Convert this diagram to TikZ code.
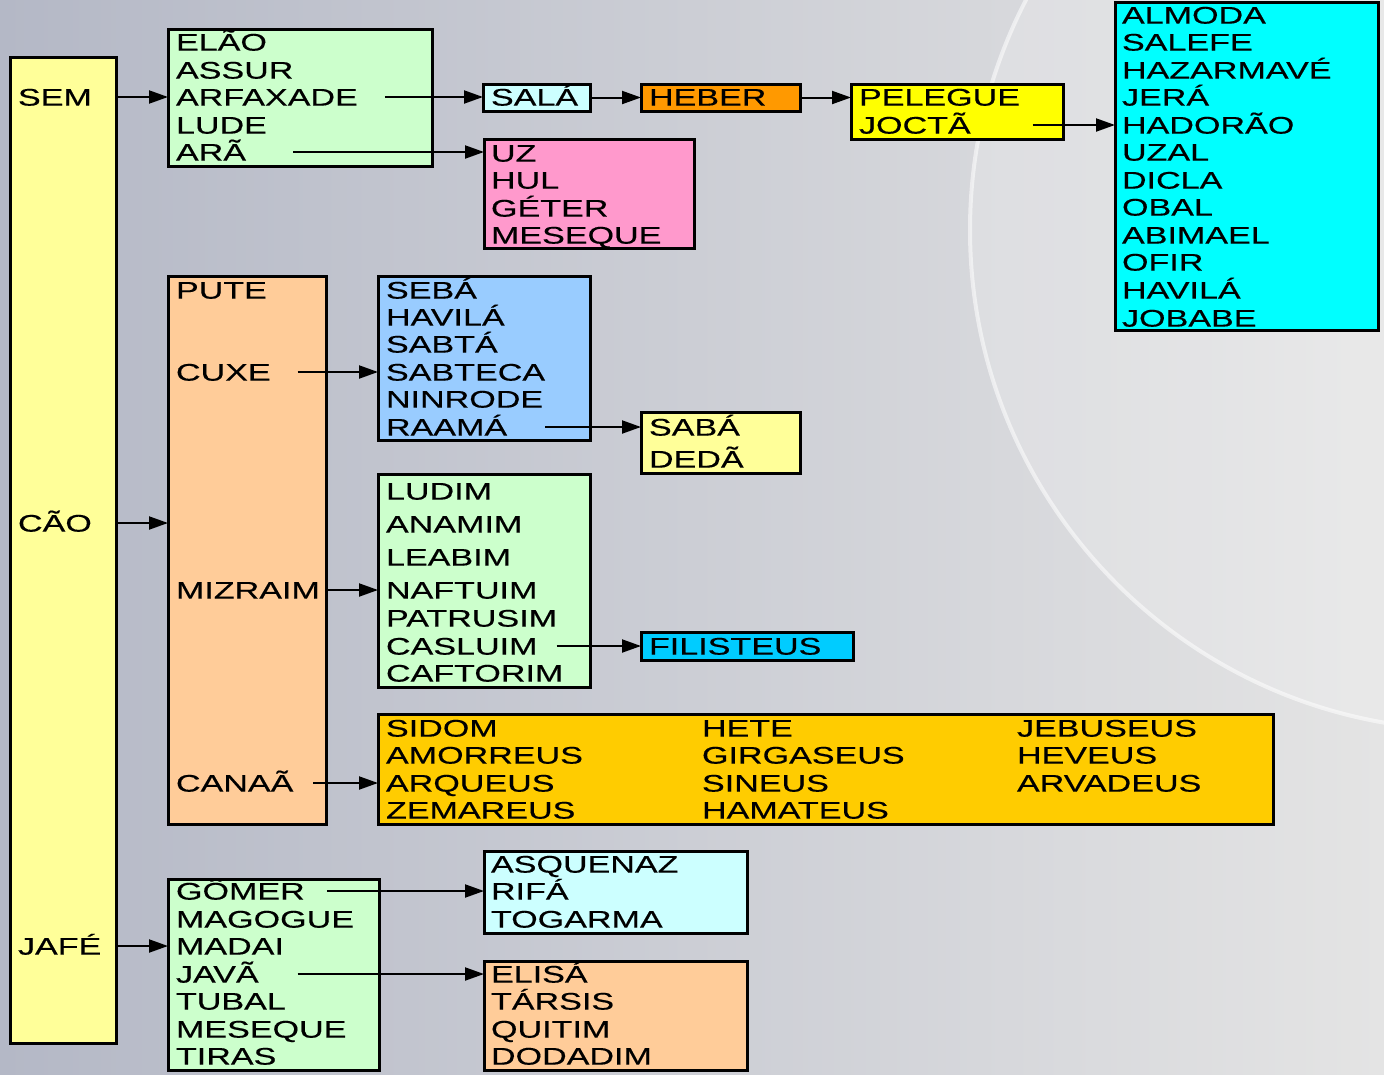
\documentclass[tikz,border=0pt]{standalone}
\usepackage{fontspec}
\setmainfont{Liberation Sans}[FakeStretch=1.42,FakeBold=0.4]
\usetikzlibrary{arrows.meta,calc}
\definecolor{bgL}{HTML}{B4B8C6}
\definecolor{bgR}{HTML}{E4E4E4}
\definecolor{cYel}{HTML}{FFFF99}
\definecolor{cGrn}{HTML}{CCFFCC}
\definecolor{cLcy}{HTML}{CCFFFF}
\definecolor{cOrg}{HTML}{FF9900}
\definecolor{cYY}{HTML}{FFFF00}
\definecolor{cCya}{HTML}{00FFFF}
\definecolor{cPnk}{HTML}{FF99CC}
\definecolor{cPch}{HTML}{FFCC99}
\definecolor{cBlu}{HTML}{99CCFF}
\definecolor{cSky}{HTML}{00CCFF}
\definecolor{cGld}{HTML}{FFCC00}
\begin{document}
\begin{tikzpicture}[x=1pt,y=-1pt,
  box/.style={draw=black,line width=3pt,inner sep=0pt,outer sep=0pt,anchor=north west},
  t/.style={anchor=west,inner sep=0pt,outer sep=0pt,text height=17.2pt,text depth=0pt,
    font=\fontsize{24}{27}\selectfont},
  arr/.style={line width=2pt,-{Triangle[length=19pt,width=13pt]}}]
% background
\useasboundingbox (0,0) rectangle (1384,1074);
\shade[left color=bgL,right color=bgR] (0,0) rectangle (1384,1074);
\fill[white,opacity=0.18] (1470,230) circle (500);
\draw[white,opacity=0.55,line width=4pt] (1470,230) circle (500);
% boxes
\node[box,fill=cYel,minimum width=106pt,minimum height=986pt] (col) at (10,57) {};
\node[box,fill=cGrn,minimum width=264pt,minimum height=137pt] (shem) at (168,29) {};
\node[box,fill=cLcy,minimum width=107pt,minimum height=27pt] (sala) at (483,84) {};
\node[box,fill=cOrg,minimum width=159pt,minimum height=27pt] (heber) at (641,84) {};
\node[box,fill=cYY,minimum width=212pt,minimum height=55pt] (peleg) at (851,84) {};
\node[box,fill=cCya,minimum width=263pt,minimum height=328pt] (joct) at (1115,2) {};
\node[box,fill=cPnk,minimum width=210pt,minimum height=109pt] (aram) at (484,139) {};
\node[box,fill=cPch,minimum width=158pt,minimum height=548pt] (ham) at (168,276) {};
\node[box,fill=cBlu,minimum width=212pt,minimum height=164pt] (cush) at (378,276) {};
\node[box,fill=cYel,minimum width=159pt,minimum height=61pt] (raama) at (641,412) {};
\node[box,fill=cGrn,minimum width=212pt,minimum height=213pt] (mizr) at (378,474) {};
\node[box,fill=cSky,minimum width=212pt,minimum height=28pt] (fili) at (641,632) {};
\node[box,fill=cGld,minimum width=895pt,minimum height=110pt] (cana) at (378,714) {};
\node[box,fill=cGrn,minimum width=211pt,minimum height=191pt] (jafe) at (168,879) {};
\node[box,fill=cLcy,minimum width=263pt,minimum height=82pt] (gomer) at (484,851) {};
\node[box,fill=cPch,minimum width=263pt,minimum height=109pt] (javan) at (484,961) {};
% column texts
\node[t] (sem) at (18,97) {SEM};
\node[t] (cao) at (18,523) {CÃO};
\node[t] (jafet) at (18,946) {JAFÉ};
% shem sons
\node[t] (elao) at (176,42) {ELÃO};
\node[t] (assur) at (176,70) {ASSUR};
\node[t] (arfax) at (176,97) {ARFAXADE};
\node[t] (lude) at (176,125) {LUDE};
\node[t] (ara) at (176,152) {ARÃ};
\node[t] (tsala) at (491,97) {SALÁ};
\node[t] (theber) at (649,97) {HEBER};
\node[t] (tpeleg) at (859,97) {PELEGUE};
\node[t] (tjoct) at (859,125) {JOCTÃ};
\node[t] (j1) at (1122,15) {ALMODA};
\node[t] (j2) at (1122,42) {SALEFE};
\node[t] (j3) at (1122,70) {HAZARMAVÉ};
\node[t] (j4) at (1122,97) {JERÁ};
\node[t] (j5) at (1122,125) {HADORÃO};
\node[t] (j6) at (1122,152) {UZAL};
\node[t] (j7) at (1122,180) {DICLA};
\node[t] (j8) at (1122,207) {OBAL};
\node[t] (j9) at (1122,235) {ABIMAEL};
\node[t] (j10) at (1122,262) {OFIR};
\node[t] (j11) at (1122,290) {HAVILÁ};
\node[t] (j12) at (1122,318) {JOBABE};
\node[t] (a1) at (491,153) {UZ};
\node[t] (a2) at (491,180) {HUL};
\node[t] (a3) at (491,208) {GÉTER};
\node[t] (a4) at (491,235) {MESEQUE};
% ham sons
\node[t] (pute) at (176,290) {PUTE};
\node[t] (cuxe) at (176,372) {CUXE};
\node[t] (mizraim) at (176,590) {MIZRAIM};
\node[t] (canaa) at (176,783) {CANAÃ};
\node[t] (c1) at (386,290) {SEBÁ};
\node[t] (c2) at (386,317) {HAVILÁ};
\node[t] (c3) at (386,344) {SABTÁ};
\node[t] (c4) at (386,372) {SABTECA};
\node[t] (c5) at (386,399) {NINRODE};
\node[t] (c6) at (386,427) {RAAMÁ};
\node[t] (r1) at (649,427) {SABÁ};
\node[t] (r2) at (649,459) {DEDÃ};
\node[t] (m1) at (386,491) {LUDIM};
\node[t] (m2) at (386,524) {ANAMIM};
\node[t] (m3) at (386,557) {LEABIM};
\node[t] (m4) at (386,590) {NAFTUIM};
\node[t] (m5) at (386,618) {PATRUSIM};
\node[t] (m6) at (386,646) {CASLUIM};
\node[t] (m7) at (386,673) {CAFTORIM};
\node[t] (tfili) at (649,646) {FILISTEUS};
\node[t] (k1) at (386,728) {SIDOM};
\node[t] (k2) at (386,755) {AMORREUS};
\node[t] (k3) at (386,783) {ARQUEUS};
\node[t] (k4) at (386,810) {ZEMAREUS};
\node[t] (k5) at (702,728) {HETE};
\node[t] (k6) at (702,755) {GIRGASEUS};
\node[t] (k7) at (702,783) {SINEUS};
\node[t] (k8) at (702,810) {HAMATEUS};
\node[t] (k9) at (1017,728) {JEBUSEUS};
\node[t] (k10) at (1017,755) {HEVEUS};
\node[t] (k11) at (1017,783) {ARVADEUS};
% jafe sons
\node[t] (g1) at (176,891) {GÔMER};
\node[t] (g2) at (176,919) {MAGOGUE};
\node[t] (g3) at (176,946) {MADAI};
\node[t] (g4) at (176,974) {JAVÃ};
\node[t] (g5) at (176,1001) {TUBAL};
\node[t] (g6) at (176,1029) {MESEQUE};
\node[t] (g7) at (176,1056) {TIRAS};
\node[t] (q1) at (491,864) {ASQUENAZ};
\node[t] (q2) at (491,891) {RIFÁ};
\node[t] (q3) at (491,919) {TOGARMA};
\node[t] (e1) at (491,974) {ELISÁ};
\node[t] (e2) at (491,1001) {TÁRSIS};
\node[t] (e3) at (491,1029) {QUITIM};
\node[t] (e4) at (491,1056) {DODADIM};
% arrows
\draw[arr] (sem -| col.east) -- (sem -| shem.west);
\draw[arr] (cao -| col.east) -- (cao -| ham.west);
\draw[arr] (jafet -| col.east) -- (jafet -| jafe.west);
\draw[arr] ([xshift=27pt]arfax.east) -- (arfax -| sala.west);
\draw[arr] ([xshift=47pt]ara.east) -- (ara -| aram.west);
\draw[arr] (sala.east) -- (sala.east -| heber.west);
\draw[arr] (heber.east) -- (heber.east -| peleg.west);
\draw[arr] ([xshift=62pt]tjoct.east) -- (tjoct -| joct.west);
\draw[arr] ([xshift=27pt]cuxe.east) -- (cuxe -| cush.west);
\draw[arr] ([xshift=38pt]c6.east) -- (c6 -| raama.west);
\draw[arr] (mizraim -| ham.east) -- (mizraim -| mizr.west);
\draw[arr] ([xshift=19pt]m6.east) -- (m6 -| fili.west);
\draw[arr] ([xshift=20pt]canaa.east) -- (canaa -| cana.west);
\draw[arr] ([xshift=22pt]g1.east) -- (g1 -| gomer.west);
\draw[arr] ([xshift=39pt]g4.east) -- (g4 -| javan.west);
\end{tikzpicture}
\end{document}
